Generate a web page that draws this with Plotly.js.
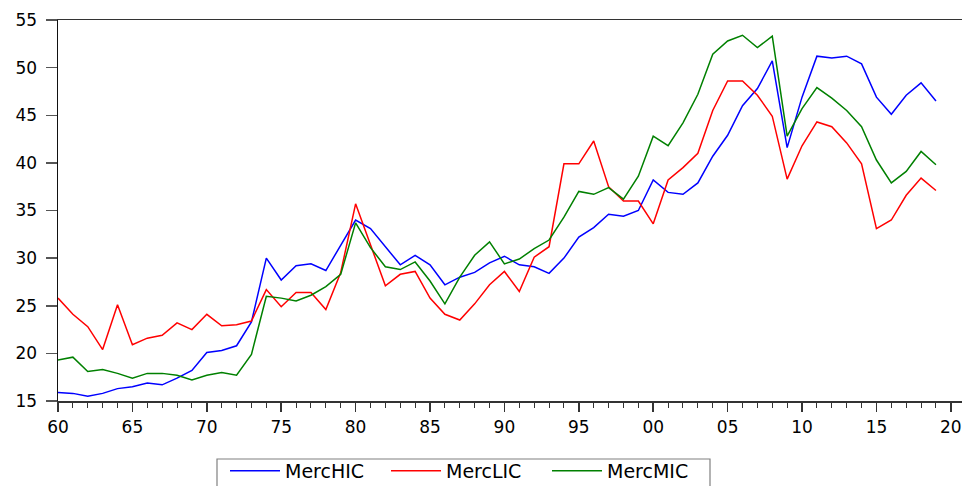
<!DOCTYPE html>
<html>
<head>
<meta charset="utf-8">
<script src="https://cdn.plot.ly/plotly-3.0.1.min.js"></script>
<style>html,body{margin:0;padding:0;background:#fff;}#chart{width:964px;height:486px;}</style>
</head>
<body>
<div id="chart"></div>
<script>
const years = [];
for (let y = 1960; y <= 2019; y++) years.push(y);

const mercHIC = [15.9,15.8,15.5,15.8,16.3,16.5,16.9,16.7,17.4,18.2,20.1,20.3,20.8,23.3,30.0,27.7,29.2,29.4,28.7,31.4,
  34.0,33.1,31.2,29.3,30.3,29.3,27.2,28.0,28.5,29.5,30.2,29.3,29.1,28.4,30.0,32.2,33.2,34.6,34.4,35.0,
  38.2,36.9,36.7,37.9,40.7,42.9,46.0,47.8,50.7,41.6,46.9,51.2,51.0,51.2,50.4,46.9,45.1,47.1,48.4,46.5];
const mercLIC = [25.8,24.1,22.8,20.4,25.1,20.9,21.6,21.9,23.2,22.5,24.1,22.9,23.0,23.4,26.7,24.9,26.4,26.4,24.6,28.5,
  35.7,31.4,27.1,28.3,28.6,25.8,24.1,23.5,25.2,27.2,28.6,26.5,30.1,31.2,39.9,39.9,42.3,37.5,36.0,36.0,
  33.6,38.2,39.5,41.0,45.5,48.6,48.6,47.1,44.9,38.3,41.8,44.3,43.8,42.1,39.9,33.1,34.0,36.6,38.4,37.1];
const mercMIC = [19.3,19.6,18.1,18.3,17.9,17.4,17.9,17.9,17.7,17.2,17.7,18.0,17.7,19.9,26.0,25.8,25.5,26.1,27.0,28.3,
  33.7,31.1,29.1,28.8,29.6,27.6,25.2,28.0,30.3,31.7,29.4,29.9,31.0,31.9,34.3,37.0,36.7,37.4,36.2,38.6,
  42.8,41.8,44.2,47.2,51.4,52.8,53.4,52.1,53.3,42.8,45.7,47.9,46.8,45.5,43.8,40.3,37.9,39.1,41.2,39.8];

const seriesNames = ['MercHIC','MercLIC','MercMIC'];
const seriesColors = ['#0000FF','#FF0000','#008000'];
const xTickVals = [1960,1965,1970,1975,1980,1985,1990,1995,2000,2005,2010,2015,2020];
const xTickText = ['60','65','70','75','80','85','90','95','00','05','10','15','20'];
const yTickVals = [15,20,25,30,35,40,45,50,55];

const allData = [mercHIC, mercLIC, mercMIC];
const traces = allData.map((d,i)=>({
  x: years, y: d, type:'scatter', mode:'lines', name: seriesNames[i],
  line:{color: seriesColors[i], width:1.5}
}));

const tickFont = {family:'"DejaVu Sans", sans-serif', size:17, color:'#000'};
const W = 964, H = 486, ML = 58, MR = 2, MT = 20, MB = 85;
const PW = W - ML - MR, PH = H - MT - MB;
const px = x => (x - ML) / PW;
const py = y => (H - MB - y) / PH;

const layout = {
  width:W, height:H,
  margin:{l:ML, r:MR, t:MT, b:MB, autoexpand:false},
  paper_bgcolor:'#fff', plot_bgcolor:'#fff',
  showlegend:true,
  font: tickFont,
  xaxis:{
    range:[1960,2020.75], tickvals:xTickVals, ticktext:xTickText,
    showgrid:false, zeroline:false, showline:true, linecolor:'#333', linewidth:1.5, mirror:true,
    ticks:'outside', ticklen:9, tickwidth:1.5, tickcolor:'#333', ticklabelstandoff:1,
    minor:{dtick:1, tick0:1960, ticks:'outside', ticklen:5, tickwidth:1, tickcolor:'#333', showgrid:false},
    tickfont:tickFont, fixedrange:true, automargin:false
  },
  yaxis:{
    range:[15,55], tickvals:yTickVals,
    showgrid:false, zeroline:false, showline:true, linecolor:'#111', linewidth:1.5,
    ticks:'outside', ticklen:11, tickwidth:1.5, tickcolor:'#555', ticklabelstandoff:5,
    tickfont:tickFont, fixedrange:true, automargin:false
  },
  legend:{
    orientation:'h', x:px(225), xanchor:'left', y:py(452), yanchor:'top',
    borderwidth:0, bgcolor:'rgba(0,0,0,0)',
    font:{family:'"DejaVu Sans", sans-serif', size:19, color:'#000'},
    entrywidth:96, entrywidthmode:'pixels', itemwidth:50
  },
  shapes:[{
    type:'rect', xref:'paper', yref:'paper',
    x0:px(217), x1:px(710), y0:py(459), y1:py(495),
    line:{color:'#808080', width:1.2}, fillcolor:'rgba(0,0,0,0)'
  }]
};
Plotly.newPlot('chart', traces, layout, {displayModeBar:false, staticPlot:true});
</script>
</body>
</html>
